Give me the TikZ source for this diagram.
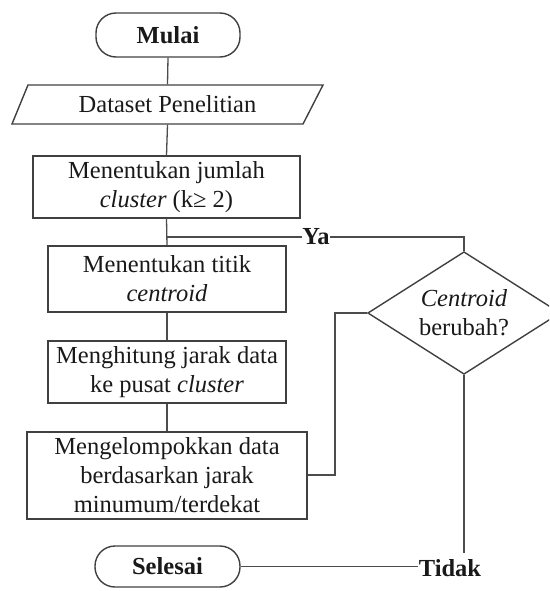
\documentclass[tikz,border=0pt]{standalone}
\usepackage{fontspec}
\setmainfont{Liberation Serif}
\begin{document}
\begin{tikzpicture}[x=1pt,y=-1pt,
  line width=1.4pt,
  every node/.style={font=\fontsize{24.5}{29}\selectfont, text=black!90},
  box/.style={draw=black!75, align=center, inner sep=0pt},
  term/.style={draw=black!75, rounded corners=20pt, inner sep=0pt, font=\fontsize{24.5}{29}\selectfont\bfseries},
  txt/.style={align=center, inner sep=0pt},
  lbl/.style={inner sep=0pt, font=\fontsize{24.5}{29}\selectfont\bfseries},
  conn/.style={draw=black!70, line width=1.3pt}
]
\useasboundingbox (0,0) rectangle (549,591);
\clip (0,0) rectangle (549,591);
% start
\node[term, minimum width=144pt, minimum height=44pt] (mulai) at (168,35) {Mulai};
% dataset (parallelogram)
\draw[draw=black!75] (28,85) -- (323,85) -- (303,124) -- (12,124) -- cycle;
\node[txt, minimum width=290pt, minimum height=39pt] (data) at (167.5,104.5) {Dataset Penelitian};
% process boxes
\node[box, minimum width=267pt, minimum height=62pt] (b1) at (166.5,187) {Menentukan jumlah\\ \textit{cluster} (k≥ 2)};
\node[box, minimum width=238pt, minimum height=66pt] (b2) at (167,279) {Menentukan titik\\ \textit{centroid}};
\node[box, minimum width=238pt, minimum height=62pt] (b3) at (167,372) {Menghitung jarak data\\ ke pusat \textit{cluster}};
\node[box, minimum width=280pt, minimum height=87pt] (b4) at (167,475.5) {Mengelompokkan data\\ berdasarkan jarak\\ minumum/terdekat};
% end
\node[term, minimum width=145pt, minimum height=41pt] (selesai) at (167.5,566.5) {Selesai};
% decision
\draw[draw=black!75] (464,252) -- (560,313) -- (464,374) -- (368,313) -- cycle;
\node[txt, minimum width=192pt, minimum height=122pt] (dec) at (464,313) {\textit{Centroid}\\ berubah?};
% labels
\node[lbl] (ya) at (316,237) {Ya};
\node[lbl] (tidak) at (450,568) {Tidak};
\coordinate (yajoin) at (167,237);
\coordinate (yacorner) at (464,237);
\coordinate (loopA) at (335,475);
\coordinate (loopB) at (335,313);
% connectors
\draw[conn] (mulai.south) -- (data.north);
\draw[conn] (data.south) -- (b1.north);
\draw[conn] (b1.south) -- (b2.north);
\draw[conn] (b2.south) -- (b3.north);
\draw[conn] (b3.south) -- (b4.north);
\draw[conn] (yajoin) -- (yajoin -| ya.west);
\draw[conn] (yacorner -| ya.east) -- (yacorner) -- (dec.north);
\draw[conn] (b4.east |- loopA) -- (loopA) -- (loopB) -- (dec.west);
\draw[conn] (dec.south) -- (464,553);
\draw[conn] (selesai.east) -- (selesai.east -| tidak.west);
\end{tikzpicture}
\end{document}
